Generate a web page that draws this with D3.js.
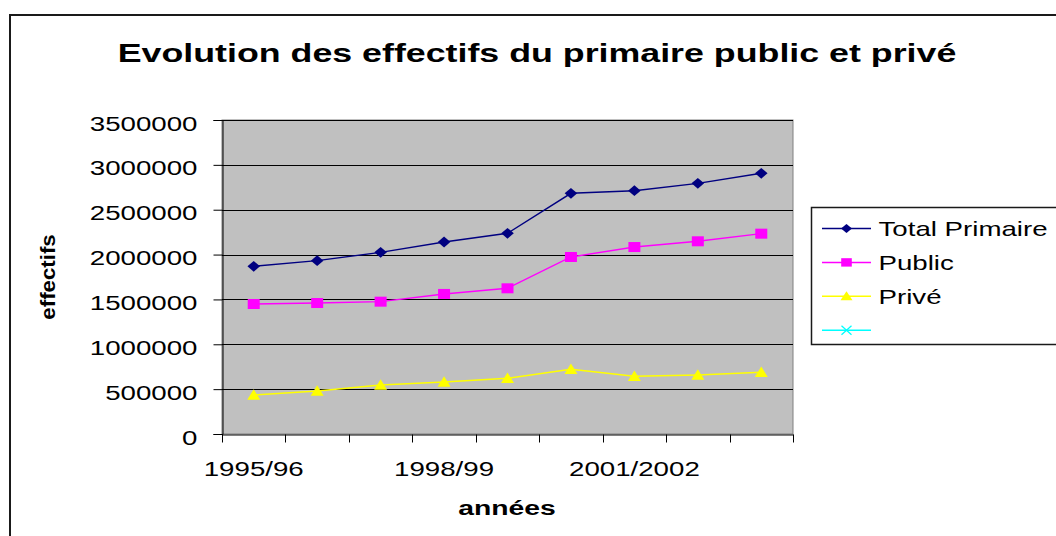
<!DOCTYPE html>
<html><head><meta charset="utf-8">
<script src="https://cdn.jsdelivr.net/npm/d3@7"></script>
<style>body{margin:0;background:#fff}svg{display:block;font-family:"Liberation Sans",Arial,sans-serif}</style>
</head><body><svg id="c" width="1056" height="536"></svg>
<script>
// ---- data ----
const categories = ["1995/96","1996/97","1997/98","1998/99","1999/2000","2000/01","2001/2002","2002/2003","2003/2004"];
const shownLabels = ["1995/96","1998/99","2001/2002"];
const totalPrimaire = [1869000,1932000,2025000,2140000,2237000,2683000,2712000,2794000,2906000];
const publicVals    = [1449000,1460000,1475000,1561000,1624000,1973000,2084000,2148000,2233000];
const priveVals     = [435000,479000,546000,580000,621000,721000,643000,658000,688000];
const yTicks = [0,500000,1000000,1500000,2000000,2500000,3000000,3500000];
const seriesNames = ["Total Primaire","Public","Privé",""];
const titleText = "Evolution des effectifs du primaire public et privé";
const xTitle = "années", yTitle = "effectifs";

// ---- layout ----
const SX = 1.35; // horizontal text stretch of the original
const L = 222, R = 793, T = 120, B = 434;
const svg = d3.select("#c");

const series = [
  {name: seriesNames[0], values: totalPrimaire, color: "#000080", marker: "diamond"},
  {name: seriesNames[1], values: publicVals, color: "#FF00FF", marker: "square"},
  {name: seriesNames[2], values: priveVals, color: "#FFFF00", marker: "triangle"},
  {name: seriesNames[3], values: [], color: "#00FFFF", marker: "x"}
];

const x = d3.scaleBand().domain(categories).range([L, R]).padding(0);
const y = d3.scaleLinear().domain([0, 3500000]).range([B, T]);
const cx = c => x(c) + x.bandwidth() / 2;

// outer border
svg.append("rect").attr("x", 10).attr("y", 15).attr("width", 1100).attr("height", 600)
  .attr("fill", "#fff").attr("stroke", "#1a1a1a").attr("stroke-width", 2);

// title
svg.append("text").text(titleText)
  .attr("text-anchor", "middle").attr("font-weight", "bold").attr("font-size", 26.5)
  .attr("transform", `translate(537,62) scale(${SX},1)`);

// plot background
svg.append("rect").attr("x", L).attr("y", T).attr("width", R - L).attr("height", B - T)
  .attr("fill", "#C0C0C0").attr("stroke", "#808080").attr("stroke-width", 1);

// gridlines
svg.append("g").selectAll("line").data(yTicks.filter(d => d > 0)).join("line")
  .attr("x1", L).attr("x2", R).attr("y1", d => Math.round(y(d)) + 0.5).attr("y2", d => Math.round(y(d)) + 0.5)
  .attr("stroke", "#000").attr("stroke-width", 1);

// y axis
const yAxis = svg.append("g").attr("transform", `translate(${L + 0.5},0)`)
  .call(d3.axisLeft(y).tickValues(yTicks).tickSize(9).tickFormat(d3.format("d")));
yAxis.select(".domain").attr("stroke", "#000");
yAxis.selectAll(".tick line").attr("stroke", "#000");
yAxis.selectAll(".tick text").attr("x", 0).attr("dy", null)
  .attr("font-size", 20.5).attr("fill", "#000").attr("font-family", null)
  .attr("transform", `translate(-25,10) scale(${SX},1)`);

// x axis
const xAxis = svg.append("g").attr("transform", `translate(0,${B + 0.5})`)
  .call(d3.axisBottom(x).tickSize(0).tickFormat(d => shownLabels.includes(d) ? d : ""));
xAxis.select(".domain").attr("stroke", "#000");
xAxis.selectAll(".tick text").attr("y", 0).attr("dy", null)
  .attr("font-size", 20.5).attr("fill", "#000").attr("font-family", null)
  .attr("transform", `translate(0,41) scale(${SX},1)`);
// tick marks between categories
const bounds = categories.map(c => x(c)).concat([x.range()[1]]);
xAxis.append("g").selectAll("line").data(bounds).join("line")
  .attr("x1", d => Math.round(d) + 0.5).attr("x2", d => Math.round(d) + 0.5)
  .attr("y1", 0).attr("y2", 8).attr("stroke", "#000");

// axis titles
svg.append("text").text(xTitle).attr("text-anchor", "middle").attr("font-weight", "bold")
  .attr("font-size", 21).attr("transform", `translate(507,515) scale(${SX},1)`);
svg.append("text").text(yTitle).attr("text-anchor", "middle").attr("font-weight", "bold")
  .attr("font-size", 21).attr("transform", `translate(55,277) rotate(-90) scale(1.06,1)`);

// markers
function drawMarker(g, type, color, s) {
  if (type === "diamond") {
    g.append("path").attr("d", `M0,${-s.h}L${s.w},0L0,${s.h}L${-s.w},0Z`).attr("fill", color);
  } else if (type === "square") {
    g.append("rect").attr("x", -s.w).attr("y", -s.h).attr("width", 2 * s.w).attr("height", 2 * s.h).attr("fill", color);
  } else if (type === "triangle") {
    g.append("path").attr("d", `M0,${-s.h * 1.1}L${s.w},${s.h * 0.9}L${-s.w},${s.h * 0.9}Z`).attr("fill", color);
  } else if (type === "x") {
    g.append("path").attr("d", `M${-s.w},${-s.h}L${s.w},${s.h}M${-s.w},${s.h}L${s.w},${-s.h}`)
      .attr("stroke", color).attr("stroke-width", 1.3).attr("fill", "none");
  }
}
const plotSize = {diamond: {w: 6.3, h: 5.4}, square: {w: 6, h: 5}, triangle: {w: 6.5, h: 5.2}, x: {w: 4.5, h: 4}};
const legSize = {diamond: {w: 5.5, h: 4.5}, square: {w: 5.3, h: 4.2}, triangle: {w: 6, h: 4.5}, x: {w: 5, h: 4.5}};

const line = d3.line().x((d, i) => cx(categories[i])).y(d => y(d));
series.forEach(s => {
  if (!s.values.length) return;
  svg.append("path").datum(s.values).attr("d", line)
    .attr("fill", "none").attr("stroke", s.color).attr("stroke-width", 1.4);
  s.values.forEach((v, i) => {
    const g = svg.append("g").attr("transform", `translate(${cx(categories[i])},${y(v)})`);
    drawMarker(g, s.marker, s.color, plotSize[s.marker]);
  });
});

// legend
svg.append("rect").attr("x", 811.5).attr("y", 207.5).attr("width", 300).attr("height", 137)
  .attr("fill", "#fff").attr("stroke", "#1a1a1a").attr("stroke-width", 1.5);
series.forEach((s, i) => {
  const ly = 228.5 + i * 33.9;
  svg.append("line").attr("x1", 822).attr("x2", 871).attr("y1", ly).attr("y2", ly)
    .attr("stroke", s.color).attr("stroke-width", 1.5);
  const g = svg.append("g").attr("transform", `translate(846.5,${ly})`);
  drawMarker(g, s.marker, s.color, legSize[s.marker]);
  svg.append("text").text(s.name).attr("font-size", 20.5)
    .attr("transform", `translate(878.5,${ly + 7.5}) scale(${SX},1)`);
});
</script></body></html>
